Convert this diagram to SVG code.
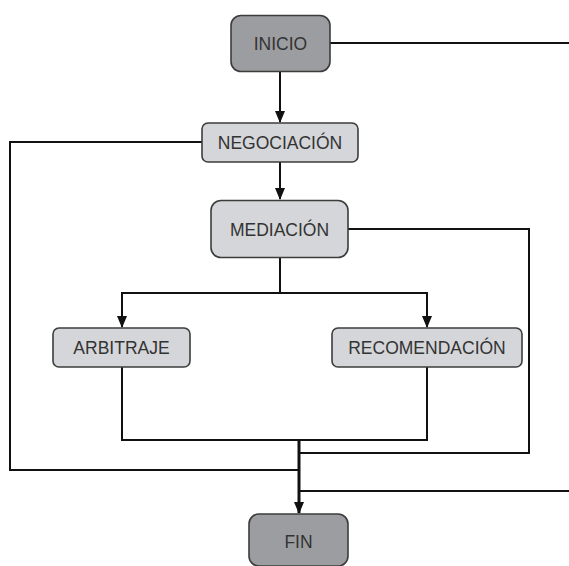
<svg xmlns="http://www.w3.org/2000/svg" width="569" height="566" viewBox="0 0 569 566">
  <style>
    .dark { fill: #9c9da1; stroke: #3c3c3c; stroke-width: 1.6; }
    .light { fill: #d5d6d9; stroke: #3c3c3c; stroke-width: 1.6; }
    .lbl { font-family: "Liberation Sans", Arial, sans-serif; font-size: 17.5px; fill: #333333; text-anchor: middle; }
    .wire { fill: none; stroke: #111111; stroke-width: 2; }
    .main { fill: none; stroke: #111111; stroke-width: 3; }
  </style>
  <defs>
    <marker id="arrow" markerUnits="userSpaceOnUse" markerWidth="12" markerHeight="12" viewBox="0 0 12 12" refX="11" refY="6" orient="auto">
      <path d="M0,1 L12,6 L0,11 Z" fill="#111111"/>
    </marker>
  </defs>

  <rect width="569" height="566" fill="#ffffff"/>

  <!-- connectors -->
  <g id="connectors">
    <path class="wire" d="M330,43 H569"/>
    <path class="wire" d="M280,72 V122" marker-end="url(#arrow)"/>
    <path class="wire" d="M202,142 H10 V470 H299"/>
    <path class="wire" d="M280,162 V199" marker-end="url(#arrow)"/>
    <path class="wire" d="M348,229 H529 V453 H299"/>
    <path class="wire" d="M280,258 V293"/>
    <path class="wire" d="M280,293 H122 V327" marker-end="url(#arrow)"/>
    <path class="wire" d="M280,293 H427 V327" marker-end="url(#arrow)"/>
    <path class="wire" d="M122,367 V440 H427 V367"/>
    <path class="wire" d="M299,491 H569"/>
    <path class="main" d="M299,440 V513" marker-end="url(#arrow)"/>
  </g>

  <!-- nodes -->
  <g id="inicio">
    <rect class="dark" x="231" y="15.5" width="99" height="56" rx="10"/>
    <text class="lbl" x="280.5" y="49.5">INICIO</text>
  </g>
  <g id="negociacion">
    <rect class="light" x="202" y="123" width="156" height="39" rx="6"/>
    <text class="lbl" x="280" y="149">NEGOCIACIÓN</text>
  </g>
  <g id="mediacion">
    <rect class="light" x="211" y="200.5" width="137" height="57" rx="10"/>
    <text class="lbl" x="279.5" y="235.5">MEDIACIÓN</text>
  </g>
  <g id="arbitraje">
    <rect class="light" x="53" y="328" width="137" height="39" rx="6"/>
    <text class="lbl" x="121.5" y="354">ARBITRAJE</text>
  </g>
  <g id="recomendacion">
    <rect class="light" x="332" y="328" width="190" height="39" rx="6"/>
    <text class="lbl" x="427" y="354">RECOMENDACIÓN</text>
  </g>
  <g id="fin">
    <rect class="dark" x="249" y="514" width="99" height="52" rx="10"/>
    <text class="lbl" x="298.5" y="548">FIN</text>
  </g>
</svg>
